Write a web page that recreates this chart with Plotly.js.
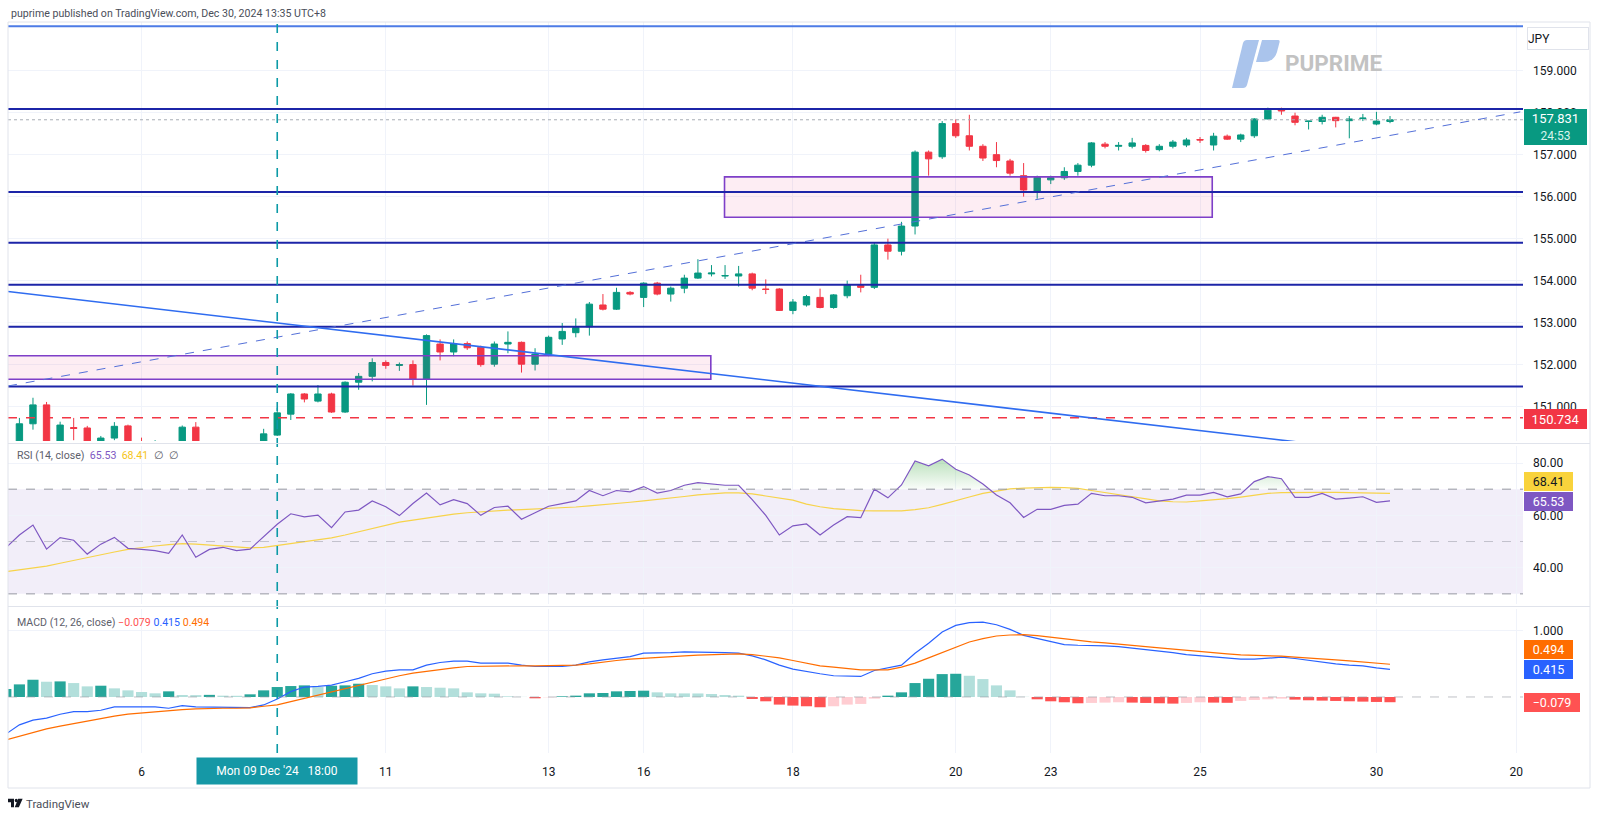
<!DOCTYPE html>
<html><head><meta charset="utf-8">
<script src="https://cdn.plot.ly/plotly-3.0.1.min.js"></script>
<style>html,body{margin:0;padding:0;background:#fff;}#chart{width:1600px;height:819px;}</style>
</head><body><div id="chart"></div>
<script>
// ---------- DATA (USD/JPY 4H) ----------
const opens = [149.95,150.10,150.59,151.04,150.10,150.50,150.49,150.05,150.25,150.54,150.10,150.00,150.10,149.95,150.51,149.95,150.05,150.08,150.00,150.05,
150.32,150.82,151.30,151.13,151.30,150.87,151.58,151.72,152.05,151.98,152.00,151.65,152.49,152.30,152.50,152.41,152.01,152.49,152.53,152.01,
152.25,152.61,152.76,152.90,153.42,153.32,153.72,153.60,153.94,153.68,153.82,154.06,154.16,154.11,154.11,154.16,153.80,153.80,153.29,153.42,
153.60,153.36,153.64,153.88,153.84,154.85,154.70,155.30,157.06,156.95,157.74,157.45,157.20,157.00,156.85,156.50,156.11,156.40,156.45,156.60,
156.75,157.25,157.20,157.20,157.22,157.12,157.20,157.23,157.36,157.23,157.44,157.37,157.45,157.85,158.10,157.92,157.79,157.79,157.89,157.81,
157.86,157.73,157.79];
const highs = [150.15,150.73,151.21,151.11,150.64,150.73,150.54,150.30,150.63,150.57,150.26,150.20,150.15,150.55,150.63,150.12,150.15,150.14,150.12,150.47,
150.97,151.32,151.32,151.51,151.33,151.60,151.80,152.15,152.10,152.05,152.10,152.72,152.60,152.60,152.55,152.45,152.55,152.79,152.55,152.39,
152.69,152.99,153.10,153.49,153.68,153.83,153.75,153.96,153.97,153.86,154.14,154.51,154.37,154.37,154.35,154.19,154.03,153.82,153.56,153.66,
153.81,153.68,154.00,154.14,154.90,155.00,155.40,157.10,157.10,157.80,157.84,157.95,157.25,157.30,156.90,156.80,156.50,156.50,156.70,156.80,
157.30,157.30,157.30,157.40,157.25,157.25,157.35,157.40,157.42,157.52,157.48,157.50,157.87,158.12,158.12,158.00,157.80,157.95,157.90,157.92,
157.97,158.02,157.92];
const lows = [149.80,150.00,150.45,150.00,150.00,150.20,149.95,149.95,150.20,150.00,149.95,149.90,149.85,149.90,149.95,149.90,149.95,149.92,149.95,150.00,
150.30,150.68,151.10,151.10,150.85,150.85,151.40,151.60,151.90,151.85,151.50,151.04,152.10,152.20,152.35,151.95,151.95,152.27,151.81,151.86,
152.20,152.47,152.65,152.69,153.29,153.30,153.65,153.37,153.65,153.50,153.70,154.04,154.10,154.04,153.86,153.77,153.68,153.28,153.20,153.38,
153.34,153.33,153.58,153.72,153.80,154.50,154.60,155.10,156.50,156.90,157.40,157.10,156.85,156.70,156.50,156.00,155.95,156.30,156.40,156.50,
156.70,157.15,157.10,157.15,157.05,157.08,157.15,157.18,157.28,157.10,157.35,157.30,157.40,157.84,157.95,157.70,157.60,157.72,157.65,157.39,
157.80,157.70,157.75];
const closes = [150.10,150.59,151.04,150.10,150.56,150.48,150.05,150.25,150.53,150.05,150.00,150.10,149.95,150.51,150.00,150.05,150.08,150.00,150.05,150.35,
150.85,151.30,151.18,151.30,150.87,151.58,151.72,152.05,151.98,152.00,151.65,152.69,152.30,152.50,152.40,152.00,152.49,152.53,152.01,152.25,
152.65,152.79,152.88,153.44,153.32,153.72,153.68,153.94,153.68,153.82,154.06,154.18,154.18,154.12,154.16,153.82,153.79,153.29,153.49,153.62,
153.36,153.66,153.90,153.84,154.85,154.70,155.30,157.06,156.90,157.74,157.45,157.20,156.92,156.86,156.56,156.16,156.46,156.45,156.60,156.75,
157.28,157.20,157.22,157.28,157.10,157.20,157.30,157.35,157.35,157.44,157.37,157.47,157.85,158.06,158.04,157.77,157.80,157.89,157.81,157.85,
157.87,157.80,157.831];

const rsi = [47.6,52.5,56.3,47.1,51.5,50.5,45.2,49.0,51.6,47.4,47.0,46.5,45.5,52.5,44.0,47.0,47.8,46.5,47.1,51.8,
56.6,60.6,59.4,60.1,55.3,61.3,62.0,65.5,63.3,59.9,64.5,68.5,64.0,66.0,64.5,60.0,63.0,63.5,58.5,61.0,
63.5,64.5,65.5,69.5,67.5,69.5,69.0,71.0,68.5,69.5,71.5,72.5,72.0,71.5,71.5,66.0,60.0,52.5,56.0,56.7,
52.5,56.3,59.5,59.1,70.0,66.7,71.6,80.8,78.9,81.5,77.6,75.4,72.0,67.8,64.8,59.2,62.3,62.3,63.8,64.3,
68.4,67.5,67.5,66.9,64.8,65.5,66.2,67.7,67.7,68.8,67.1,68.2,72.9,74.8,74.0,66.9,66.9,68.4,66.2,66.6,
67.1,65.0,65.53];
const rsiMa = [38.5,39.2,39.9,40.6,41.7,42.8,44.0,45.0,46.0,47.0,47.7,48.3,48.8,49.2,49.0,48.6,48.3,47.9,47.6,47.8,
48.5,49.3,50.0,50.7,51.4,52.5,53.7,55.0,56.2,57.4,58.2,59.0,59.8,60.5,61.0,61.4,61.8,62.0,62.2,62.4,
62.6,62.8,63.2,63.6,64.0,64.5,65.0,65.5,66.0,66.6,67.2,67.8,68.3,68.6,68.6,68.2,67.4,66.6,65.8,64.3,
63.3,62.6,62.1,61.8,61.7,61.6,61.7,62.2,62.9,64.2,65.5,67.0,68.4,69.3,70.1,70.4,70.6,70.7,70.6,70.3,
69.5,68.7,67.8,67.0,66.2,65.5,65.2,65.1,65.5,65.9,66.4,67.0,67.8,68.4,68.7,68.8,68.8,68.8,68.8,68.7,
68.6,68.5,68.41];

const macd = [-0.56,-0.42,-0.35,-0.32,-0.26,-0.22,-0.22,-0.20,-0.15,-0.15,-0.15,-0.15,-0.17,-0.13,-0.15,-0.15,-0.15,-0.16,-0.16,-0.12,
-0.03,0.08,0.15,0.16,0.18,0.23,0.28,0.35,0.39,0.41,0.41,0.48,0.52,0.54,0.54,0.51,0.51,0.51,0.48,0.46,
0.46,0.46,0.48,0.53,0.56,0.59,0.61,0.66,0.66,0.67,0.68,0.68,0.68,0.67,0.66,0.62,0.56,0.48,0.42,0.38,
0.35,0.32,0.31,0.31,0.40,0.44,0.48,0.66,0.81,0.98,1.08,1.12,1.13,1.09,1.02,0.93,0.88,0.83,0.79,0.78,
0.78,0.77,0.76,0.74,0.71,0.69,0.67,0.64,0.62,0.60,0.58,0.57,0.57,0.59,0.60,0.58,0.55,0.52,0.50,0.48,
0.47,0.44,0.415];
const signal = [-0.65,-0.59,-0.54,-0.48,-0.44,-0.40,-0.36,-0.33,-0.29,-0.26,-0.24,-0.22,-0.21,-0.19,-0.18,-0.17,-0.17,-0.17,-0.165,-0.14,
-0.12,-0.07,-0.02,0.03,0.08,0.13,0.18,0.23,0.28,0.32,0.36,0.39,0.42,0.44,0.46,0.465,0.47,0.47,0.47,0.47,
0.47,0.47,0.48,0.50,0.53,0.55,0.57,0.585,0.60,0.61,0.62,0.63,0.64,0.645,0.65,0.64,0.62,0.59,0.55,0.51,
0.47,0.45,0.43,0.41,0.41,0.41,0.45,0.51,0.59,0.67,0.75,0.83,0.88,0.92,0.935,0.94,0.925,0.90,0.88,0.86,
0.83,0.815,0.80,0.78,0.76,0.74,0.72,0.70,0.68,0.665,0.65,0.635,0.63,0.62,0.615,0.60,0.59,0.575,0.56,0.545,
0.53,0.51,0.494];
const hist = [0.12,0.19,0.26,0.23,0.235,0.21,0.16,0.17,0.13,0.10,0.075,0.055,0.085,0.03,0.028,0.032,0.02,0.018,0.04,0.10,
0.15,0.165,0.175,0.15,0.17,0.175,0.20,0.18,0.16,0.13,0.16,0.15,0.14,0.13,0.07,0.055,0.05,0.01,0.002,-0.02,
-0.005,0.01,0.02,0.055,0.06,0.085,0.09,0.095,0.07,0.055,0.054,0.053,0.045,0.03,0.02,-0.03,-0.065,-0.115,-0.13,-0.14,
-0.155,-0.14,-0.115,-0.105,-0.025,0.02,0.07,0.21,0.275,0.345,0.35,0.32,0.27,0.175,0.10,0.003,-0.035,-0.065,-0.08,-0.095,
-0.09,-0.085,-0.08,-0.085,-0.09,-0.095,-0.10,-0.09,-0.08,-0.085,-0.088,-0.06,-0.045,-0.035,-0.025,-0.04,-0.05,-0.055,-0.06,-0.065,
-0.07,-0.075,-0.079];

const tickIdx = [10,28,40,47,58,70,77,88,101,111.3];
const tickText = ['6','11','13','16','18','20','23','25','30','20'];
const priceTicks = [151,152,153,154,155,156,157,158,159];
const levels = [158.09,156.11,154.90,153.90,152.90,151.48];
const topLevel = 160.06;
const redLevel = 150.734;
const lastPrice = 157.831;
const zones = [{x0:-3,x1:51.95,y0:151.65,y1:152.21},{x0:52.96,x1:88.9,y0:155.51,y1:156.47}];
const riseLine = {x0:0.16,y0:151.49,x1:111.6,y1:158.02};
const fallLine = {x0:0.16,y0:153.74,x1:111.8,y1:149.53};
const crossIdx = 20;

// ---------- LAYOUT HELPERS ----------
const L=8,R=1523,T=22,B=753;
const px = x => (x-L)/(R-L);
const py = y => (B-y)/(B-T);
const idx = opens.map((_,i)=>i);
const FONT = 'Roboto, "Liberation Sans", Arial, sans-serif';

const histColors = hist.map((v,i)=>{const p=i>0?hist[i-1]:v; return v>=0?(v>=p?'#26a69a':'#b2dfdb'):(v<=p?'#ff5252':'#ffcdd2');});

// overbought fill with crossing points
const obX=[], obY=[];
for(let i=0;i<rsi.length;i++){
  if(i>0){const a=rsi[i-1],b=rsi[i]; if((a-70)*(b-70)<0){const t=(70-a)/(b-a); obX.push(i-1+t); obY.push(70);}}
  obX.push(i); obY.push(Math.max(70,rsi[i]));
}

const traces = [
 {type:'candlestick',x:idx,open:opens,high:highs,low:lows,close:closes,xaxis:'x',yaxis:'y',
  increasing:{line:{color:'#089981',width:1},fillcolor:'#089981'},decreasing:{line:{color:'#f23645',width:1},fillcolor:'#f23645'},
  whiskerwidth:0,hoverinfo:'skip',showlegend:false},
 {type:'scatter',mode:'lines',x:[0,102],y:[70,70],xaxis:'x',yaxis:'y2',line:{width:0},hoverinfo:'skip',showlegend:false},
 {type:'scatter',mode:'lines',x:obX,y:obY,xaxis:'x',yaxis:'y2',line:{width:0},fill:'tonexty',
  fillgradient:{type:'vertical',colorscale:[[0,'rgba(76,175,80,0.03)'],[1,'rgba(76,175,80,0.38)']]},hoverinfo:'skip',showlegend:false},
 {type:'scatter',mode:'lines',x:idx,y:rsiMa,xaxis:'x',yaxis:'y2',line:{color:'#f7d34a',width:1.2},hoverinfo:'skip',showlegend:false},
 {type:'scatter',mode:'lines',x:idx,y:rsi,xaxis:'x',yaxis:'y2',line:{color:'#7e57c2',width:1.2},hoverinfo:'skip',showlegend:false},
 {type:'bar',x:idx,y:hist,xaxis:'x',yaxis:'y3',marker:{color:histColors,line:{width:0}},width:0.82,hoverinfo:'skip',showlegend:false},
 {type:'scatter',mode:'lines',x:idx,y:macd,xaxis:'x',yaxis:'y3',line:{color:'#2962ff',width:1.2},hoverinfo:'skip',showlegend:false},
 {type:'scatter',mode:'lines',x:idx,y:signal,xaxis:'x',yaxis:'y3',line:{color:'#ff6d00',width:1.2},hoverinfo:'skip',showlegend:false}
];

const shapes = [];
shapes.push({type:'rect',xref:'paper',yref:'y2',x0:0,x1:1,y0:30,y1:70,fillcolor:'rgba(126,87,194,0.1)',line:{width:0},layer:'below'});
shapes.push({type:'line',xref:'paper',yref:'y2',x0:0,x1:1,y0:70,y1:70,line:{color:'#9598a1',width:1,dash:'dash'}});
shapes.push({type:'line',xref:'paper',yref:'y2',x0:0,x1:1,y0:50,y1:50,line:{color:'rgba(149,152,161,0.5)',width:1,dash:'dash'}});
shapes.push({type:'line',xref:'paper',yref:'y2',x0:0,x1:1,y0:30,y1:30,line:{color:'#9598a1',width:1,dash:'dash'}});
shapes.push({type:'line',xref:'paper',yref:'y3',x0:0,x1:1,y0:0,y1:0,line:{color:'rgba(149,152,161,0.6)',width:1,dash:'dash'}});
zones.forEach(z=>shapes.push({type:'rect',xref:'x',yref:'y',x0:z.x0,x1:z.x1,y0:z.y0,y1:z.y1,fillcolor:'rgba(233,30,99,0.08)',line:{color:'#7e3fc8',width:1.6}}));
levels.forEach(v=>shapes.push({type:'line',xref:'paper',yref:'y',x0:0,x1:1,y0:v,y1:v,line:{color:'#1c25a8',width:2}}));
shapes.push({type:'line',xref:'paper',yref:'y',x0:0,x1:1,y0:topLevel,y1:topLevel,line:{color:'#4d7be6',width:2}});
shapes.push({type:'line',xref:'paper',yref:'y',x0:0,x1:1,y0:redLevel,y1:redLevel,line:{color:'#f23645',width:1.5,dash:'dash'}});
shapes.push({type:'line',xref:'paper',yref:'y',x0:0,x1:1,y0:lastPrice,y1:lastPrice,line:{color:'#a7acb5',width:1,dash:'dot'}});
shapes.push({type:'line',xref:'x',yref:'y',x0:riseLine.x0,y0:riseLine.y0,x1:riseLine.x1,y1:riseLine.y1,line:{color:'#5470d8',width:1,dash:'dash'}});
shapes.push({type:'line',xref:'x',yref:'y',x0:fallLine.x0,y0:fallLine.y0,x1:fallLine.x1,y1:fallLine.y1,line:{color:'#2f6cf0',width:1.6}});
shapes.push({type:'line',xref:'x',yref:'paper',x0:crossIdx,x1:crossIdx,y0:0,y1:1,line:{color:'#0c9aa6',width:1.6,dash:'dash'}});
shapes.push({type:'line',xref:'paper',yref:'paper',x0:0,x1:px(1590),y0:py(443.5),y1:py(443.5),line:{color:'#e0e3eb',width:1}});
shapes.push({type:'line',xref:'paper',yref:'paper',x0:0,x1:px(1590),y0:py(606.5),y1:py(606.5),line:{color:'#e0e3eb',width:1}});
shapes.push({type:'rect',xref:'paper',yref:'paper',x0:0,x1:px(1590),y0:py(788),y1:1,line:{color:'#e0e3eb',width:1},fillcolor:'rgba(0,0,0,0)'});

function box(text,x,yTop,w,h,bg,fg,size){
  return {xref:'paper',yref:'paper',x:px(x),y:py(yTop),xanchor:'left',yanchor:'top',text:text,showarrow:false,
    bgcolor:bg,font:{family:FONT,size:size||12.5,color:fg},width:w,height:h,borderpad:0,borderwidth:0,align:'center',valign:'middle'};
}
const annotations = [
 {xref:'paper',yref:'paper',x:px(9),y:py(13),xanchor:'left',yanchor:'middle',showarrow:false,
  text:'puprime published on TradingView.com, Dec 30, 2024 13:35 UTC+8',font:{family:FONT,size:10.6,color:'#4a4e59'}},
 {xref:'paper',yref:'paper',x:px(15),y:py(455),xanchor:'left',yanchor:'middle',showarrow:false,
  text:'RSI (14, close)  <span style="color:#7e57c2">65.53</span>  <span style="color:#f5c518">68.41</span>  ∅  ∅',font:{family:FONT,size:10.6,color:'#5d606b'}},
 {xref:'paper',yref:'paper',x:px(15),y:py(622),xanchor:'left',yanchor:'middle',showarrow:false,
  text:'MACD (12, 26, close) <span style="color:#ff5252">−0.079</span> <span style="color:#2962ff">0.415</span> <span style="color:#ff6d00">0.494</span>',font:{family:FONT,size:10.6,color:'#5d606b'}},
 box('157.831<br><span style="font-size:12px;color:#d8f3ec">24:53</span>',1524,109.5,63,36,'#089981','#ffffff',13),
 box('150.734',1524,409,63,20,'#f23645','#ffffff',13),
 box('68.41',1524,472,49,19,'#f9d33c','#131722',12.5),
 box('65.53',1524,491.5,49,19,'#7e57c2','#ffffff',12.5),
 box('0.494',1524,640,49,19,'#ff6d00','#ffffff',12.5),
 box('0.415',1524,660,49,19,'#2962ff','#ffffff',12.5),
 box('−0.079',1524,692.5,56,19,'#ff5252','#ffffff',12.5),
 {xref:'paper',yref:'paper',x:px(1527),y:py(27),xanchor:'left',yanchor:'top',showarrow:false,text:'JPY',
  font:{family:FONT,size:12,color:'#131722'},bgcolor:'#ffffff',bordercolor:'#e0e3eb',borderwidth:1,borderpad:0,width:60,height:21,align:'left'},
 {xref:'x',yref:'paper',x:crossIdx,y:py(757),xanchor:'center',yanchor:'top',showarrow:false,text:"Mon 09 Dec '24&nbsp;&nbsp;&nbsp;18:00",
  font:{family:FONT,size:12,color:'#ffffff'},bgcolor:'#1598a6',width:160,height:26,borderpad:0},
 {xref:'paper',yref:'paper',x:px(1283),y:py(63),xanchor:'left',yanchor:'middle',showarrow:false,text:'<b>PUPRIME</b>',
  font:{family:FONT,size:22.5,color:'#c2c2c2'}},
 {xref:'paper',yref:'paper',x:px(24),y:py(804),xanchor:'left',yanchor:'middle',showarrow:false,text:'TradingView',
  font:{family:FONT,size:11.5,color:'#4a4e59'}}
];

const puLogo = 'data:image/svg+xml;utf8,' + encodeURIComponent('<svg xmlns="http://www.w3.org/2000/svg" viewBox="0 0 50 48"><path fill="#aac4ec" d="M2 48 L13 3 Q14 0 17 0 L29 0 L17 45 Q16 48 13 48 Z"/><path fill="#aac4ec" d="M32 0 L48 0 Q50 0 49.6 2 L47 12 Q44 22 33 22 L26 22 Z"/></svg>');
const tvLogo = 'data:image/svg+xml;utf8,' + encodeURIComponent('<svg xmlns="http://www.w3.org/2000/svg" viewBox="0 0 20 12"><path fill="#131722" d="M0 1h8v10H4V5H0z M13.5 1h6l-5 10h-5.5z"/><circle cx="11" cy="3" r="2" fill="#131722"/></svg>');

const axisFont = {family:FONT,size:12,color:'#131722'};
const layout = {
  width:1600,height:819,margin:{l:L,r:1600-R,t:T,b:819-B},
  paper_bgcolor:'#ffffff',plot_bgcolor:'#ffffff',showlegend:false,dragmode:false,
  xaxis:{domain:[0,1],anchor:'y3',range:[0.16,111.8],tickvals:tickIdx,ticktext:tickText,showgrid:true,gridcolor:'#f0f3fa',
    zeroline:false,showline:false,ticks:'',tickfont:axisFont,ticklabelstandoff:10,rangeslider:{visible:false},fixedrange:true},
  yaxis:{domain:[py(441),1],anchor:'x',side:'right',range:[150.18,160.16],tickvals:priceTicks,tickformat:'.3f',
    gridcolor:'#f0f3fa',zeroline:false,showline:false,ticks:'',tickfont:axisFont,ticklabelstandoff:9,fixedrange:true},
  yaxis2:{domain:[py(604),py(446)],anchor:'x',side:'right',range:[26.13,86.5],tickvals:[40,60,80],tickformat:'.2f',
    gridcolor:'#f0f3fa',zeroline:false,showline:false,ticks:'',tickfont:axisFont,ticklabelstandoff:9,fixedrange:true},
  yaxis3:{domain:[0,py(609)],anchor:'x',side:'right',range:[-0.845,1.327],tickvals:[1],tickformat:'.3f',
    gridcolor:'#f0f3fa',zeroline:false,showline:false,ticks:'',tickfont:axisFont,ticklabelstandoff:9,fixedrange:true},
  bargap:0.15,boxgap:0.33,
  shapes:shapes,annotations:annotations,
  images:[
    {source:puLogo,xref:'paper',yref:'paper',x:px(1230),y:py(40),sizex:50/(R-L),sizey:48/(B-T),xanchor:'left',yanchor:'top',sizing:'stretch',layer:'above'},
    {source:tvLogo,xref:'paper',yref:'paper',x:px(8),y:py(798),sizex:15/(R-L),sizey:10/(B-T),xanchor:'left',yanchor:'top',sizing:'stretch'}
  ]
};
Plotly.newPlot('chart',traces,layout,{staticPlot:true,displayModeBar:false});
</script></body></html>
